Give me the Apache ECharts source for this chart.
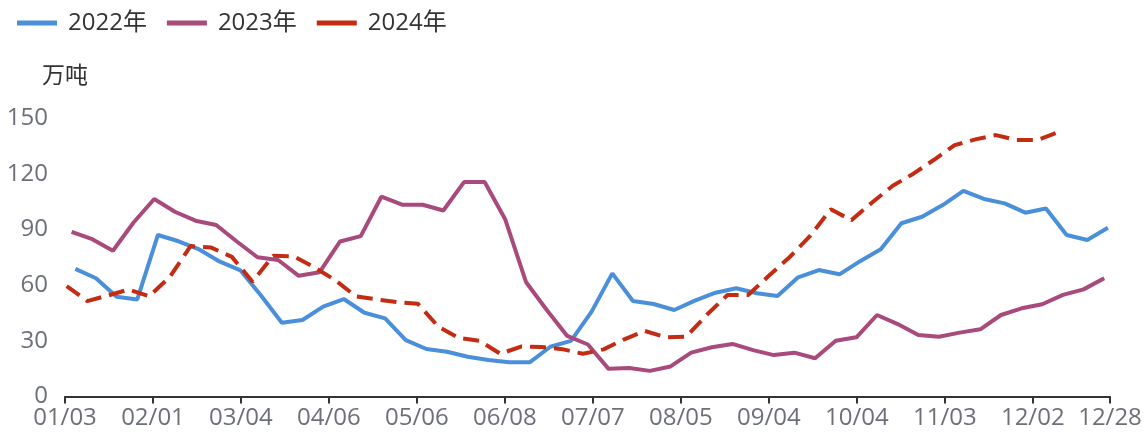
<!DOCTYPE html>
<html>
<head>
<meta charset="utf-8">
<title>库存</title>
<script src="https://cdn.jsdelivr.net/npm/echarts@6/dist/echarts.min.js"></script>
<style>
  html, body { margin: 0; padding: 0; background: #fff; }
  #chart { width: 1145px; height: 437px; }
</style>
</head>
<body>
<div id="chart"></div>
<script>
// 周度数据，单位：万吨
var seriesNames = ['2022年', '2023年', '2024年'];

var values2022 = [68.7, 63.7, 53.7, 52.3, 87.0, 83.6, 79.2, 72.6, 67.9, 54.3,
  39.7, 41.2, 48.4, 52.5, 45.1, 42.1, 30.4, 25.6, 24.1, 21.4,
  19.7, 18.4, 18.4, 26.8, 30.0, 45.7, 66.3, 51.4, 49.8, 46.6,
  51.6, 55.9, 58.3, 55.6, 54.1, 64.2, 68.1, 65.8, 72.9, 79.3,
  93.3, 96.8, 103.1, 110.8, 106.4, 104.0, 99.0, 101.3, 87.0, 84.3, 90.9];

var values2023 = [88.7, 84.7, 78.5, 93.7, 106.4, 99.5, 94.7, 92.4, 83.5, 75.0,
  73.5, 65.0, 66.9, 83.5, 86.4, 107.6, 103.3, 103.3, 100.2, 115.5,
  115.5, 95.3, 61.7, 46.7, 32.6, 28.0, 14.9, 15.3, 13.8, 16.2,
  23.6, 26.5, 28.3, 25.0, 22.3, 23.6, 20.6, 30.0, 31.9, 43.9,
  39.0, 33.1, 32.2, 34.4, 36.2, 43.9, 47.5, 49.7, 54.7, 57.7, 63.7];

var values2024 = [59.5, 51.4, 54.4, 57.6, 54.0, 64.5, 81.0, 80.2, 75.2, 61.8,
  75.8, 75.5, 69.5, 62.7, 54.0, 52.3, 50.8, 50.0, 37.6, 31.5,
  30.0, 23.0, 26.9, 26.6, 25.5, 23.0, 25.4, 30.8, 35.3, 31.9,
  32.2, 44.0, 54.7, 54.7, 65.0, 75.0, 86.5, 100.8, 95.0, 104.5,
  113.5, 120.0, 127.5, 135.4, 138.5, 140.8, 138.1, 138.1, 142.3];

var tickLabels = ['01/03', '02/01', '03/04', '04/06', '05/06', '06/08', '07/07',
  '08/05', '09/04', '10/04', '11/03', '12/02', '12/28'];

// x 轴以周为单位；各年份数据日期在周内的位置略有不同
var weekShift = [0.5, 0.32, 0.08];
var xStep = 4.26;
var xMax = 50.6;

var font = "'Open Sans', 'Noto Sans CJK SC', sans-serif";

function toPoints(values, shift) {
  return values.map(function (v, i) { return [i + shift, v]; });
}

var chart = echarts.init(document.getElementById('chart'));

chart.setOption({
  animation: false,
  color: ['#4a8fd9', '#a84a7c', '#c42b13'],
  legend: {
    left: 12,
    top: 6,
    icon: 'rect',
    itemWidth: 40,
    itemHeight: 5,
    itemGap: 20,
    textStyle: { fontFamily: font, fontSize: 24, color: '#333', padding: [0, 0, 0, 6] },
    data: seriesNames
  },
  grid: { left: 65, right: 35, top: 118, bottom: 40.5 },
  xAxis: {
    type: 'value',
    min: 0,
    max: xMax,
    interval: xStep,
    axisLine: { lineStyle: { color: '#333', width: 2 } },
    axisTick: { length: 7, lineStyle: { color: '#333', width: 2 } },
    splitLine: { show: false },
    axisLabel: {
      fontFamily: font,
      fontSize: 24,
      color: '#6e7079',
      margin: 10,
      showMaxLabel: true,
      formatter: function (v) {
        if (Math.abs(v - xMax) < 1e-6) return tickLabels[tickLabels.length - 1];
        return tickLabels[Math.round(v / xStep)];
      }
    }
  },
  yAxis: {
    type: 'value',
    min: 0,
    max: 150,
    interval: 30,
    name: '万吨',
    nameGap: 30,
    nameTextStyle: { fontFamily: font, fontSize: 23, color: '#333' },
    axisLine: { show: false },
    axisTick: { show: false },
    splitLine: { show: false },
    axisLabel: { fontFamily: font, fontSize: 24, color: '#6e7079', margin: 17 }
  },
  series: [
    {
      name: seriesNames[0],
      type: 'line',
      showSymbol: false,
      lineStyle: { width: 4 },
      data: toPoints(values2022, weekShift[0])
    },
    {
      name: seriesNames[1],
      type: 'line',
      showSymbol: false,
      lineStyle: { width: 4 },
      data: toPoints(values2023, weekShift[1])
    },
    {
      name: seriesNames[2],
      type: 'line',
      showSymbol: false,
      lineStyle: { width: 4, type: [16, 8] },
      data: toPoints(values2024, weekShift[2])
    }
  ]
});
</script>
</body>
</html>
